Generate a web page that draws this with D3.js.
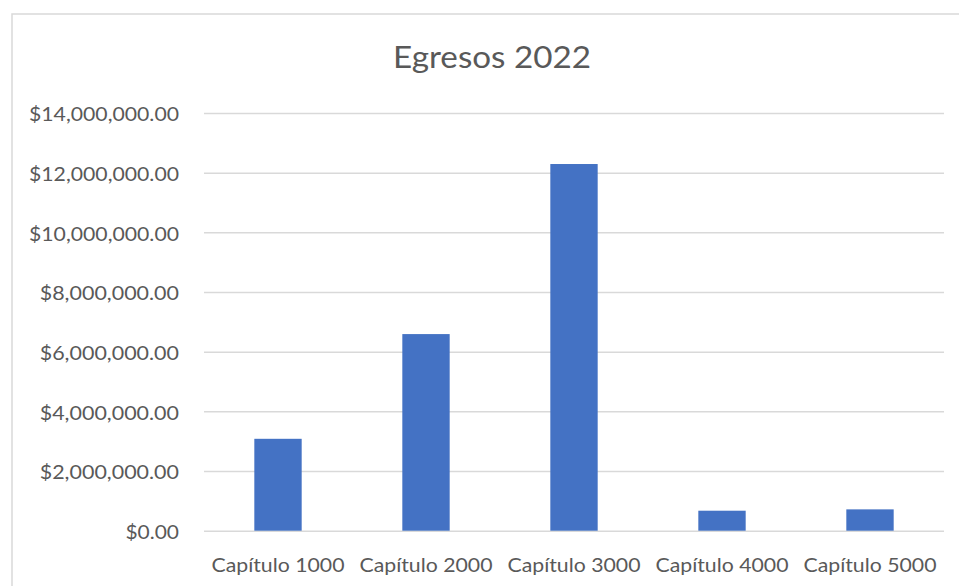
<!DOCTYPE html>
<html><head><meta charset="utf-8">
<script src="https://cdn.jsdelivr.net/npm/d3@7"></script>
<style>body{margin:0;background:#fff}svg{display:block}</style>
</head><body>
<script>
const categories = ["Capítulo 1000","Capítulo 2000","Capítulo 3000","Capítulo 4000","Capítulo 5000"];
const values = [3080000, 6590000, 12290000, 670000, 715000];
const yTicks = [0,2000000,4000000,6000000,8000000,10000000,12000000,14000000];
const title = "Egresos 2022";

const W=959,H=586;
const svg=d3.select("body").append("svg").attr("width",W).attr("height",H);
const font="Lato, 'Open Sans', sans-serif";
// chart border
svg.append("rect").attr("x",12).attr("y",14).attr("width",W).attr("height",H)
  .attr("fill","#fff").attr("stroke","#d9d9d9").attr("stroke-width",1.5);

const x=d3.scaleBand().domain(categories).range([204,944]).paddingInner(0.68).paddingOuter(0.34);
const y=d3.scaleLinear().domain([0,14000000]).range([530.7,113]);

const fmt=v=>"$"+d3.format(",.2f")(v);
const yAxis=svg.append("g").attr("transform","translate(204,0)")
  .call(d3.axisLeft(y).tickValues(yTicks).tickSize(-740).tickFormat(fmt).tickPadding(25));
yAxis.select(".domain").remove();
yAxis.selectAll(".tick line").attr("stroke","#d9d9d9").attr("stroke-width",1.5);
yAxis.selectAll(".tick text").attr("fill","#595959").attr("font-family",font).attr("font-size",19.5)
  .attr("dy","0.4em").attr("lengthAdjust","spacingAndGlyphs").each(function(d){
    const t=fmt(d); d3.select(this).attr("textLength", 150*t.length/14);
  });

svg.selectAll("rect.bar").data(values).join("rect").attr("class","bar")
  .attr("x",(d,i)=>x(categories[i])).attr("width",x.bandwidth())
  .attr("y",d=>y(d)).attr("height",d=>y(0)-y(d)).attr("fill","#4472c4");

const xAxis=svg.append("g").attr("transform","translate(0,530.7)")
  .call(d3.axisBottom(x).tickSize(0).tickPadding(27));
xAxis.select(".domain").remove();
xAxis.selectAll(".tick text").attr("fill","#595959").attr("font-family",font).attr("font-size",20)
  .attr("textLength",133).attr("lengthAdjust","spacingAndGlyphs");

svg.append("text").attr("x",492).attr("y",67.5).attr("text-anchor","middle")
  .attr("fill","#595959").attr("font-family",font).attr("font-size",31)
  .attr("textLength",198).attr("lengthAdjust","spacingAndGlyphs").text(title);
</script>
</body></html>
